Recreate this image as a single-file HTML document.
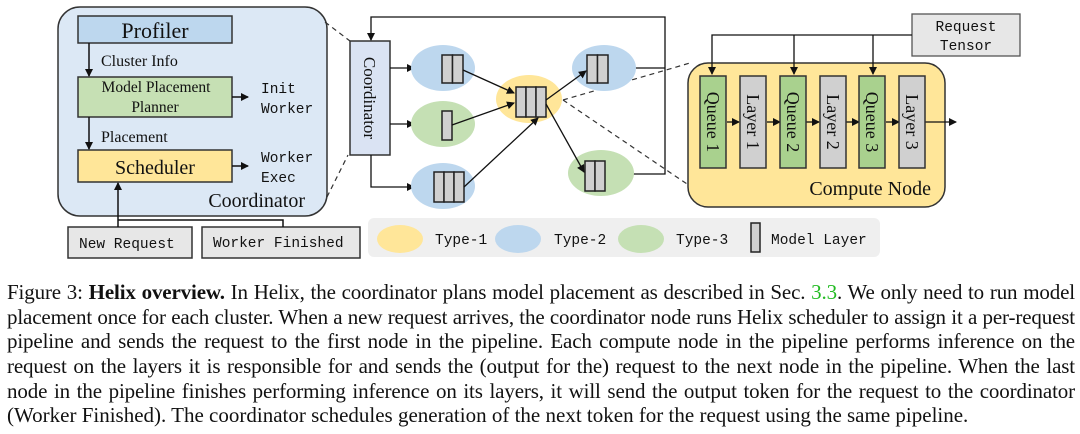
<!DOCTYPE html>
<html><head><meta charset="utf-8"><style>
html,body{margin:0;padding:0;background:#fff;width:1080px;height:434px;overflow:hidden}
svg{position:absolute;left:0;top:0}
.cap{position:absolute;left:7px;width:1068px;font-family:"Liberation Serif",serif;font-size:21px;color:#111;line-height:24.7px;top:280px;letter-spacing:-0.14px}
.cap div{text-align:justify;text-align-last:justify;white-space:nowrap;height:24.7px}
.cap div.last{text-align-last:left;letter-spacing:0}
.s{font-family:"Liberation Serif",serif;fill:#111}
.m{font-family:"Liberation Mono",monospace;fill:#111;font-size:14.5px}
</style></head><body>
<svg width="1080" height="434" viewBox="0 0 1080 434">
<defs><marker id="a" markerWidth="8" markerHeight="8" refX="7" refY="4" orient="auto" markerUnits="userSpaceOnUse"><path d="M0,0L8,4L0,8z" fill="#111"/></marker></defs>
<g stroke="#333" stroke-width="1.5">
<rect x="58" y="7" width="269" height="209" rx="22" fill="#dce8f5"/>
<rect x="78" y="16" width="154" height="27" fill="#bdd7ee"/>
<rect x="78" y="77" width="154" height="40" fill="#c6e0b4"/>
<rect x="78" y="150" width="154" height="32" fill="#ffe699"/>
<rect x="68" y="227" width="124" height="31" fill="#e7e7e7"/>
<rect x="202" y="227" width="158" height="31" fill="#e7e7e7"/>
</g>
<g stroke="#111" stroke-width="1.5" fill="none">
<line x1="89" y1="43" x2="89" y2="76" marker-end="url(#a)"/>
<line x1="89" y1="117" x2="89" y2="149" marker-end="url(#a)"/>
<line x1="232" y1="97" x2="248" y2="97" marker-end="url(#a)"/>
<line x1="232" y1="166" x2="248" y2="166" marker-end="url(#a)"/>
<line x1="118" y1="227" x2="118" y2="183" marker-end="url(#a)"/>
<polyline points="118,220 283,220 283,227"/>
</g>
<text class="s" x="155" y="38" font-size="22" text-anchor="middle">Profiler</text>
<text class="s" x="101" y="66" font-size="16">Cluster Info</text>
<text class="s" x="156" y="92" font-size="15.5" text-anchor="middle">Model Placement</text>
<text class="s" x="155" y="112" font-size="15.5" text-anchor="middle">Planner</text>
<text class="s" x="101" y="142" font-size="16">Placement</text>
<text class="s" x="155" y="174" font-size="20" text-anchor="middle">Scheduler</text>
<text class="m" x="261" y="93">Init</text><text class="m" x="261" y="113">Worker</text>
<text class="m" x="261" y="162">Worker</text><text class="m" x="261" y="182">Exec</text>
<text class="s" x="305" y="207" font-size="20" text-anchor="end">Coordinator</text>
<text class="m" x="79" y="248">New Request</text>
<text class="m" x="213" y="247">Worker Finished</text>
<g stroke="#333" stroke-width="1.2" stroke-dasharray="5,4" fill="none">
<line x1="325" y1="22" x2="350" y2="41"/><line x1="327" y1="197" x2="348" y2="155"/>
<line x1="563" y1="100" x2="690" y2="63"/><line x1="563" y1="100" x2="690" y2="186"/>
</g>
<rect x="350" y="41" width="40" height="114" fill="#dae3f3" stroke="#333" stroke-width="1.5"/>
<text class="s" font-size="17" transform="translate(364,98) rotate(90)" text-anchor="middle">Coordinator</text>
<g fill="none" stroke="#111" stroke-width="1.3">
<polyline points="665,68 665,17 371,17 371,40" marker-end="url(#a)"/>
<line x1="634" y1="68" x2="665" y2="68"/>
<polyline points="632,174 665,174 665,68"/>
<line x1="390" y1="68" x2="414" y2="68" marker-end="url(#a)"/>
<line x1="390" y1="124" x2="414" y2="124" marker-end="url(#a)"/>
<polyline points="371,155 371,187 414,187" marker-end="url(#a)"/>
</g>
<g>
<ellipse cx="443" cy="68" rx="32" ry="23" fill="#bdd7ee"/>
<ellipse cx="443" cy="124" rx="32" ry="23" fill="#c5e0b4"/>
<ellipse cx="443" cy="186" rx="32" ry="23" fill="#bdd7ee"/>
<ellipse cx="529" cy="99" rx="33" ry="24" fill="#ffe699"/>
<ellipse cx="604" cy="68" rx="32" ry="23" fill="#bdd7ee"/>
<ellipse cx="601" cy="173" rx="33" ry="23" fill="#c5e0b4"/>
</g>
<g fill="#d0d0d0" stroke="#222" stroke-width="1.5">
<rect x="442" y="55" width="10.5" height="28"/><rect x="452.5" y="55" width="10.5" height="28"/>
<rect x="442" y="111" width="10" height="29"/>
<rect x="434" y="172" width="10" height="30"/><rect x="444" y="172" width="10" height="30"/><rect x="454" y="172" width="10" height="30"/>
<rect x="516" y="87" width="10" height="30"/><rect x="526" y="87" width="10" height="30"/><rect x="536" y="87" width="10" height="30"/>
<rect x="587" y="55" width="10.5" height="28"/><rect x="597.5" y="55" width="10.5" height="28"/>
<rect x="585" y="161" width="10" height="30"/><rect x="595" y="161" width="10" height="30"/>
</g>
<g stroke="#111" stroke-width="1.3" fill="none">
<line x1="463" y1="70" x2="514" y2="93" marker-end="url(#a)"/>
<line x1="452" y1="125" x2="514" y2="103" marker-end="url(#a)"/>
<line x1="464" y1="187" x2="538" y2="118" marker-end="url(#a)"/>
<line x1="546" y1="100" x2="586" y2="71" marker-end="url(#a)"/>
<line x1="546" y1="104" x2="584" y2="172" marker-end="url(#a)"/>
</g>
<rect x="912" y="14" width="108" height="42" fill="#e7e7e7" stroke="#555" stroke-width="1.3"/>
<text class="m" x="966" y="31" text-anchor="middle">Request</text>
<text class="m" x="966" y="50" text-anchor="middle">Tensor</text>
<rect x="688" y="63" width="257" height="144" rx="20" fill="#ffe699" stroke="#333" stroke-width="1.5"/>
<g fill="none" stroke="#111" stroke-width="1.3">
<polyline points="912,35 712,35 712,74" marker-end="url(#a)"/>
<line x1="794" y1="35" x2="794" y2="74" marker-end="url(#a)"/>
<line x1="873" y1="35" x2="873" y2="74" marker-end="url(#a)"/>
<line x1="727" y1="122" x2="739" y2="122" marker-end="url(#a)"/>
<line x1="767" y1="122" x2="780" y2="122" marker-end="url(#a)"/>
<line x1="806" y1="122" x2="819" y2="122" marker-end="url(#a)"/>
<line x1="846" y1="122" x2="859" y2="122" marker-end="url(#a)"/>
<line x1="886" y1="122" x2="899" y2="122" marker-end="url(#a)"/>
<line x1="925" y1="122" x2="956" y2="122" marker-end="url(#a)"/>
</g>
<g stroke="#333" stroke-width="1.5">
<rect x="700" y="76" width="26" height="92" fill="#a9d18e"/>
<rect x="740" y="76" width="26" height="92" fill="#d0d0d0"/>
<rect x="780" y="76" width="26" height="92" fill="#a9d18e"/>
<rect x="820" y="76" width="26" height="92" fill="#d0d0d0"/>
<rect x="859" y="76" width="26" height="92" fill="#a9d18e"/>
<rect x="899" y="76" width="26" height="92" fill="#d0d0d0"/>
</g>
<g class="s" font-size="18">
<text transform="translate(707,122) rotate(90)" text-anchor="middle">Queue 1</text>
<text transform="translate(747,122) rotate(90)" text-anchor="middle">Layer 1</text>
<text transform="translate(787,122) rotate(90)" text-anchor="middle">Queue 2</text>
<text transform="translate(827,122) rotate(90)" text-anchor="middle">Layer 2</text>
<text transform="translate(866,122) rotate(90)" text-anchor="middle">Queue 3</text>
<text transform="translate(906,122) rotate(90)" text-anchor="middle">Layer 3</text>
</g>
<text class="s" x="931" y="195" font-size="20" text-anchor="end">Compute Node</text>
<rect x="368" y="218" width="512" height="39" rx="6" fill="#efefef"/>
<ellipse cx="400" cy="239" rx="23" ry="14" fill="#ffe699"/>
<ellipse cx="518" cy="239" rx="23" ry="14" fill="#bdd7ee"/>
<ellipse cx="641" cy="239" rx="23" ry="14" fill="#c5e0b4"/>
<rect x="751" y="223" width="9" height="29" fill="#d0d0d0" stroke="#222" stroke-width="1.5"/>
<text class="m" x="435" y="244">Type-1</text>
<text class="m" x="554" y="244">Type-2</text>
<text class="m" x="676" y="244">Type-3</text>
<text class="m" x="771" y="244">Model Layer</text>
</svg>
<div class="cap">
<div>Figure 3: <b>Helix overview.</b> In Helix, the coordinator plans model placement as described in Sec. <span style="color:#22bb22">3.3</span>. We only need to run model</div>
<div>placement once for each cluster. When a new request arrives, the coordinator node runs Helix scheduler to assign it a per-request</div>
<div>pipeline and sends the request to the first node in the pipeline. Each compute node in the pipeline performs inference on the</div>
<div>request on the layers it is responsible for and sends the (output for the) request to the next node in the pipeline. When the last</div>
<div>node in the pipeline finishes performing inference on its layers, it will send the output token for the request to the coordinator</div>
<div class="last">(Worker Finished). The coordinator schedules generation of the next token for the request using the same pipeline.</div>
</div>
</body></html>
